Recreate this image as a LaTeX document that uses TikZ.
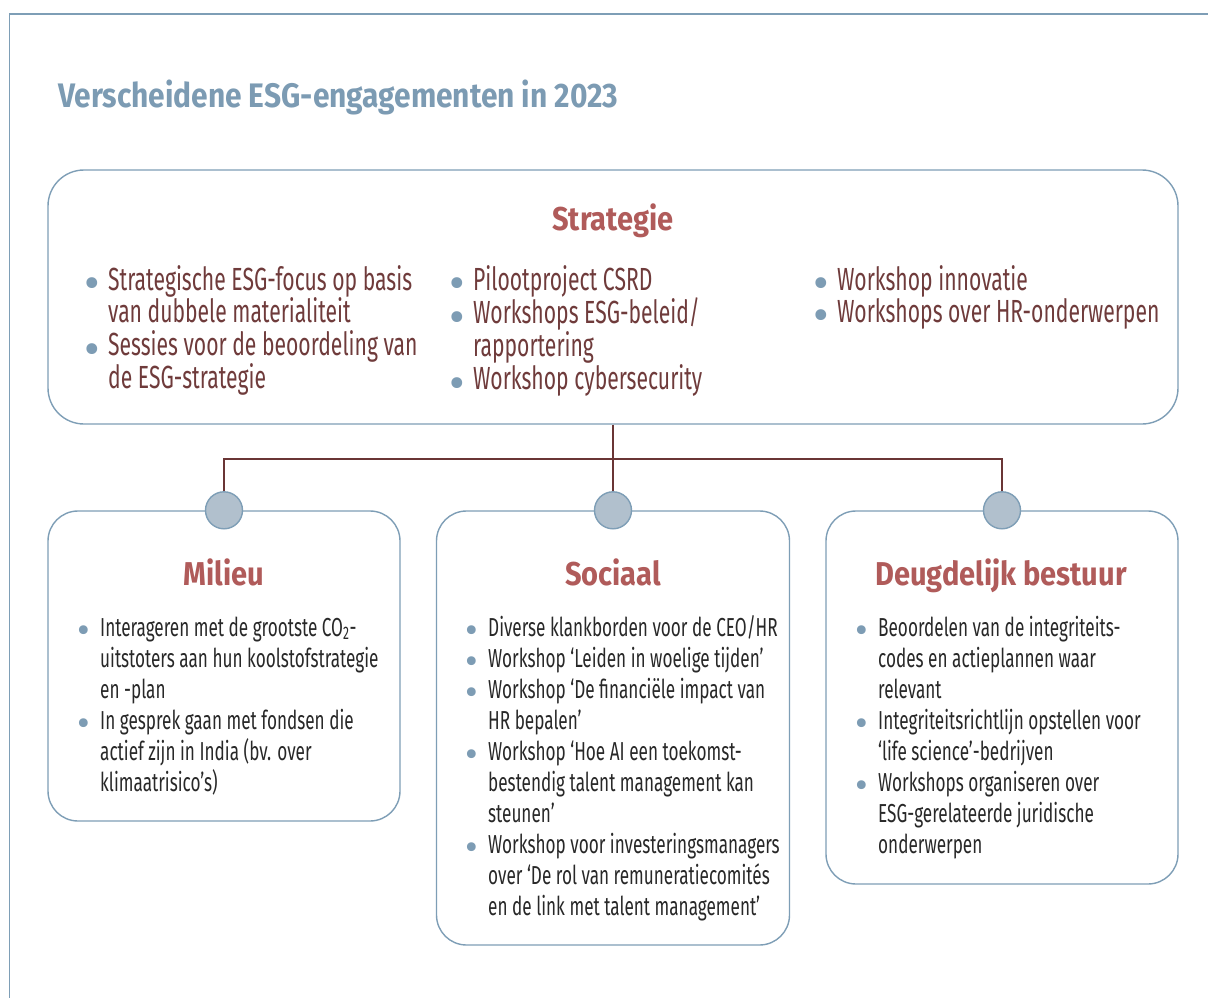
\documentclass[tikz,border=0pt]{standalone}
\usepackage{fontspec}
\setmainfont{Fira Sans}[FakeStretch=0.66]
\newfontfamily\kopfont{Fira Sans}[FakeStretch=0.88]
\newfontfamily\puntfont{Fira Sans}
\usetikzlibrary{positioning}

\definecolor{lijnblauw}{RGB}{126,158,182}
\definecolor{titelblauw}{RGB}{124,155,179}
\definecolor{koprood}{RGB}{176,91,90}
\definecolor{bruin}{RGB}{111,59,59}
\definecolor{tekstgrijs}{RGB}{40,40,40}
\definecolor{lijnrood}{RGB}{106,53,53}
\definecolor{bolgrijs}{RGB}{177,192,205}
\definecolor{puntblauw}{RGB}{125,156,180}

\newcommand{\punt}{\smash{\textcolor{puntblauw}{\raisebox{-0.3em}{\scalebox{1.5}{\puntfont\textbullet}}}}}
% font size plus a fixed row pitch for the bullet tables
\newcommand{\regels}[3]{\fontsize{#1}{#1}\selectfont
  \setbox\strutbox\hbox{\vrule height #2 depth #3 width 0pt}}

\tikzset{
  kader/.style={draw=lijnblauw, line width=1.4pt, rounded corners=30pt, fill=white},
  bol/.style={circle, draw=lijnblauw, fill=bolgrijs, line width=1.4pt, minimum size=37pt, inner sep=0pt},
  verbinding/.style={draw=lijnrood, line width=2.6pt},
  kop/.style={font=\fontsize{33}{33}\selectfont\kopfont\bfseries, text=koprood, anchor=base, inner sep=0pt},
  lijst/.style={anchor=base west, inner sep=0pt},
  boven/.style={lijst, text=bruin, font=\regels{32pt}{24pt}{8pt}},
  onder/.style={lijst, text=tekstgrijs, font=\regels{26pt}{22pt}{9pt}}
}

\begin{document}
\begin{tikzpicture}[x=1pt,y=-1pt]
\useasboundingbox (0,0) rectangle (1208,998);

% frame and title
\draw[lijnblauw, line width=1.4pt] (9.5,998) -- (9.5,14) -- (1208,14);
\node[anchor=base west, inner sep=0pt, text=titelblauw, font=\fontsize{34}{34}\selectfont\kopfont\bfseries] (titel) at (58,107)
  {Verscheidene ESG-engagementen in 2023};

% boxes
\node[kader, rounded corners=36pt, minimum width=1130pt, minimum height=254pt] (strategie) at (613,297) {};
\node[kader, minimum width=352pt, minimum height=310pt] (milieu) at (224,666) {};
\node[kader, minimum width=353pt, minimum height=434pt] (sociaal) at (613,728) {};
\node[kader, minimum width=352pt, minimum height=373pt] (bestuur) at (1002,697.5) {};

% connectors
\coordinate (splits) at (613,459);
\node[bol] (bolM) at (milieu.north) {};
\node[bol] (bolS) at (sociaal.north) {};
\node[bol] (bolD) at (bestuur.north) {};
\draw[verbinding] (strategie.south) -- (bolS.north);
\draw[verbinding] (bolM.north) |- (splits) -| (bolD.north);

% headings
\node[kop] (kopS) at (613,230) {Strategie};
\node[kop] (kopM) at (224,585) {Milieu};
\node[kop] (kopSo) at (613,585) {Sociaal};
\node[kop] (kopD) at (1001,585) {Deugdelijk bestuur};

% strategie items
\node[boven] (s1) at (84,290) {%
\begin{tabular}[t]{@{}p{24pt}@{}l@{}}
\punt & Strategische ESG-focus op basis\\
 & van dubbele materialiteit\\
\punt & Sessies voor de beoordeling van\\
 & de ESG-strategie
\end{tabular}};
\node[boven] (s2) at (449,290) {%
\begin{tabular}[t]{@{}p{24pt}@{}l@{}}
\punt & Pilootproject CSRD\\
\punt & Workshops ESG-beleid/\\
 & rapportering\\
\punt & Workshop cybersecurity
\end{tabular}};
\node[boven] (s3) at (813,290) {%
\begin{tabular}[t]{@{}p{24pt}@{}l@{}}
\punt & Workshop innovatie\\
\punt & Workshops over HR-onderwerpen
\end{tabular}};

% lower items
\node[onder] (m1) at (77,636) {%
\begin{tabular}[t]{@{}p{23pt}@{}l@{}}
\punt & Interageren met de grootste CO\textsubscript{2}-\\
 & uitstoters aan hun koolstofstrategie\\
 & en -plan\\
\punt & In gesprek gaan met fondsen die\\
 & actief zijn in India (bv. over\\
 & klimaatrisico’s)
\end{tabular}};
\node[onder] (so1) at (465,636) {%
\begin{tabular}[t]{@{}p{23pt}@{}l@{}}
\punt & Diverse klankborden voor de CEO/HR\\
\punt & Workshop ‘Leiden in woelige tijden’\\
\punt & Workshop ‘De financiële impact van\\
 & HR bepalen’\\
\punt & Workshop ‘Hoe AI een toekomst-\\
 & bestendig talent management kan\\
 & steunen’\\
\punt & Workshop voor investeringsmanagers\\
 & over ‘De rol van remuneratiecomités\\
 & en de link met talent management’
\end{tabular}};
\node[onder] (d1) at (855,636) {%
\begin{tabular}[t]{@{}p{23pt}@{}l@{}}
\punt & Beoordelen van de integriteits-\\
 & codes en actieplannen waar\\
 & relevant\\
\punt & Integriteitsrichtlijn opstellen voor\\
 & ‘life science’-bedrijven\\
\punt & Workshops organiseren over\\
 & ESG-gerelateerde juridische\\
 & onderwerpen
\end{tabular}};
\end{tikzpicture}
\end{document}
